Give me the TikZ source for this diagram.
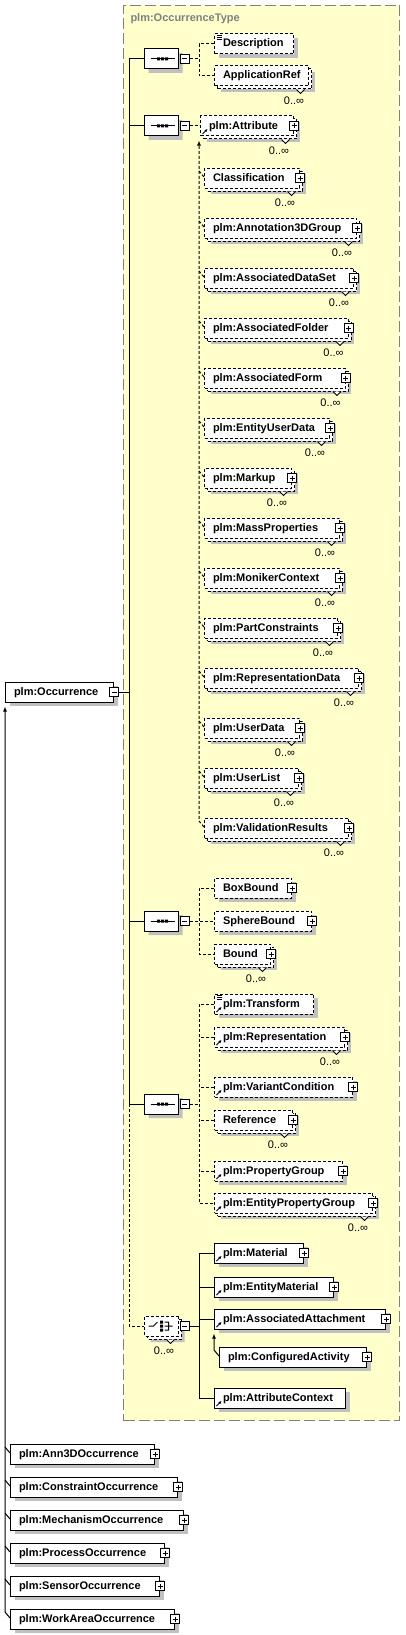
\documentclass[tikz,border=0pt]{standalone}
\usepackage{fontspec}
\setmainfont{Liberation Sans}
\usetikzlibrary{arrows.meta,positioning,calc,shapes.misc,shadows}

\definecolor{typebg}{RGB}{255,255,204}
\definecolor{typeline}{RGB}{128,128,128}
\definecolor{shade}{RGB}{192,192,192}

\tikzset{
  elem/.style={draw, fill=white, anchor=west, minimum height=20pt, inner xsep=8.5pt,
    inner ysep=0pt, text width=#1-17pt, align=left, text height=8pt, text depth=2pt,
    font=\bfseries\fontsize{11}{13}\selectfont},
  opt/.style={dash pattern=on 3pt off 2pt},
  dsh/.style={dash pattern=on 3pt off 2pt},
  one/.style={drop shadow={shadow xshift=4pt, shadow yshift=-4pt, fill=shade, opacity=1}},
  many/.style={drop shadow={shadow xshift=6pt, shadow yshift=-6pt, fill=shade, opacity=1},
    copy shadow={shadow xshift=3pt, shadow yshift=-3pt, draw, fill=white}},
  sq/.style={draw, solid, fill=white, minimum size=9pt, inner sep=0pt},
  expand/.style={append after command={node[sq, name=\tikzlastnode-p, path picture={
      \draw ([xshift=2pt]path picture bounding box.west) -- ([xshift=-2pt]path picture bounding box.east)
        ([yshift=-2pt]path picture bounding box.north) -- ([yshift=2pt]path picture bounding box.south);}]
      at (\tikzlastnode.east) {}}},
  collapse/.style={append after command={node[sq, name=\tikzlastnode-m, xshift=#1, path picture={
      \draw ([xshift=2pt]path picture bounding box.west) -- ([xshift=-2pt]path picture bounding box.east);}]
      at (\tikzlastnode.east) {}}},
  collapse/.default=0pt,
  refd/.style={path picture={\draw[solid, line width=.8pt, -{Latex[length=3pt,width=3pt]}]
      ([shift={(2,-2)}]path picture bounding box.south west) -- ++(5,-5);}},
  simple/.style={path picture={\draw[solid, line width=.7pt]
      ([shift={(2,1)}]path picture bounding box.north west) -- ++(5,0) ++(-5,2) -- ++(5,0) ++(-5,2) -- ++(5,0);}},
  simpleref/.style={path picture={\draw[solid, line width=.7pt]
      ([shift={(2,1)}]path picture bounding box.north west) -- ++(5,0) ++(-5,2) -- ++(5,0) ++(-5,2) -- ++(5,0);
      \draw[solid, line width=.8pt, -{Latex[length=3pt,width=3pt]}]
      ([shift={(2,-2)}]path picture bounding box.south west) -- ++(5,-5);}},
  comp/.style={chamfered rectangle, chamfered rectangle xsep=6pt, draw, fill=white, anchor=west,
    minimum width=34pt, minimum height=20pt, inner sep=0pt, collapse=5.5pt},
  seq/.style={comp, path picture={\begin{scope}[shift={(path picture bounding box.center)}]
      \draw[solid] (-11,0) -- (13,0);
      \fill[black] (-4.5,-1.5) rectangle ++(3,3) (-0.5,-1.5) rectangle ++(3,3) (3.5,-1.5) rectangle ++(3,3);
    \end{scope}}},
  choice/.style={comp, opt, path picture={\begin{scope}[shift={(path picture bounding box.center)}]
      \draw[solid] (-13,0) -- (-8,0) -- (-4,-4) (3,-4) -- (7,-4) -- (7,4) -- (3,4) (3,0) -- (11,0);
      \fill[black] (-1.5,-5.5) rectangle ++(3,3) (-1.5,-1.5) rectangle ++(3,3) (-1.5,2.5) rectangle ++(3,3);
    \end{scope}}},
  notch/.style={draw, solid, fill=white},
  occurs/.style={font=\fontsize{11}{13}\selectfont, inner sep=0pt, xshift=-10.5pt, yshift=-11pt},
  typebox/.style={draw=typeline, fill=typebg, dash pattern=on 11pt off 4pt, anchor=north west,
    minimum width=276pt, minimum height=1415pt, inner sep=0pt},
  typetitle/.style={anchor=west, inner sep=0pt, text=typeline, font=\bfseries\fontsize{11}{13}\selectfont}
}

\begin{document}
\begin{tikzpicture}[x=1pt, y=-1pt, line width=1pt, >={Latex[length=5pt,width=4pt]}]
\useasboundingbox (0,0) rectangle (405,1635);
\node[typebox] (otype) at (123,5) {};
\node[typetitle] (otype-t) at (130,19) {plm:OccurrenceType};
\coordinate (mx) at (129,0); \coordinate (jx) at (199,0);

\node[elem=108, one, collapse] (occ) at (5,692) {plm:Occurrence};

% first sequence
\node[seq, one] (s1) at (144,59) {};
\node[elem=79, opt, one, simple] (desc) at (214,44) {Description};
\node[elem=94, opt, many] (appref) at (214,76) {ApplicationRef};

% attribute and its substitution group
\node[seq, one] (s2) at (144,126) {};
\node[elem=93, opt, many, refd, expand] (attr) at (200,126) {plm:Attribute};
\node[elem=95, opt, many, expand] (cls) at (204,178) {Classification};
\node[elem=152, opt, many, expand] (a3d) at (204,228) {plm:Annotation3DGroup};
\node[elem=149, opt, many, expand] (ads) at (204,278) {plm:AssociatedDataSet};
\node[elem=143.5, opt, many, expand] (afo) at (204,328) {plm:AssociatedFolder};
\node[elem=140.5, opt, many, expand] (afm) at (204,378) {plm:AssociatedForm};
\node[elem=125, opt, many, expand] (eud) at (204,428) {plm:EntityUserData};
\node[elem=87, opt, many, expand] (mku) at (204,478) {plm:Markup};
\node[elem=135, opt, many, expand] (mpr) at (204,528) {plm:MassProperties};
\node[elem=135, opt, many, expand] (mnk) at (204,578) {plm:MonikerContext};
\node[elem=133, opt, many, expand] (pco) at (204,628) {plm:PartConstraints};
\node[elem=154, opt, many, expand] (rpd) at (204,678) {plm:RepresentationData};
\node[elem=95, opt, many, expand] (usd) at (204,728) {plm:UserData};
\node[elem=94, opt, many, expand] (usl) at (204,778) {plm:UserList};
\node[elem=144, opt, many, expand] (vlr) at (204,828) {plm:ValidationResults};

% bounds
\node[seq, one] (s3) at (144,921) {};
\node[elem=77, opt, one, expand] (bbx) at (214,888) {BoxBound};
\node[elem=97, opt, one, expand] (sbx) at (214,921) {SphereBound};
\node[elem=56, opt, many, expand] (bnd) at (214,954) {Bound};

\node[seq, one] (s4) at (144,1104) {};
\node[elem=99, opt, one, simpleref] (trf) at (214,1004) {plm:Transform};
\node[elem=130, opt, many, refd, expand] (rep) at (214,1037) {plm:Representation};
\node[elem=138, opt, one, refd, expand] (vcd) at (214,1087) {plm:VariantCondition};
\node[elem=78, opt, many, expand] (refr) at (214,1120) {Reference};
\node[elem=128, opt, one, refd, expand] (prg) at (214,1171) {plm:PropertyGroup};
\node[elem=158, opt, many, refd, expand] (epg) at (214,1203) {plm:EntityPropertyGroup};

% choice
\node[choice, many] (chc) at (144,1326) {};
\node[elem=89, one, refd, expand] (mat) at (214,1253) {plm:Material};
\node[elem=119, one, refd, expand] (emat) at (214,1287) {plm:EntityMaterial};
\node[elem=171, one, refd, expand] (att) at (214,1319) {plm:AssociatedAttachment};
\node[elem=147, one, expand] (cfg) at (219,1357) {plm:ConfiguredActivity};
\node[elem=131, one, refd] (actx) at (214,1398) {plm:AttributeContext};

% derived types
\node[elem=144, one, expand] (ann) at (10,1454) {plm:Ann3DOccurrence};
\node[elem=167, one, expand] (con) at (10,1487) {plm:ConstraintOccurrence};
\node[elem=173, one, expand] (mec) at (10,1520) {plm:MechanismOccurrence};
\node[elem=154, one, expand] (pro) at (10,1553) {plm:ProcessOccurrence};
\node[elem=149, one, expand] (sen) at (10,1586) {plm:SensorOccurrence};
\node[elem=164, one, expand] (wao) at (10,1619) {plm:WorkAreaOccurrence};

\draw (s1.west) -- (s1.west -| mx) -- (s4.west -| mx) -- (s4.west);
\draw (s2.west) -- (s2.west -| mx) (s3.west) -- (s3.west -| mx) (occ-m.east) -- (occ-m.east -| mx);
\draw[dsh] (s4.west -| mx) |- (chc.west);

\draw[dsh] (s1-m.east) -- (s1-m.east -| jx) (desc.west) -| (jx |- appref.west) -- (appref.west);
\draw[dsh] (s2-m.east) -- (attr.west);
\draw[dsh, ->] (vlr.west) ++(0,-1) -- ++(-5,-6) -- ($(attr.south -| jx)+(0,4)$);
\draw[dsh] (cls.west) ++(0,-1) -- ++(-5,-6) (a3d.west) ++(0,-1) -- ++(-5,-6)
  (ads.west) ++(0,-1) -- ++(-5,-6) (afo.west) ++(0,-1) -- ++(-5,-6)
  (afm.west) ++(0,-1) -- ++(-5,-6) (eud.west) ++(0,-1) -- ++(-5,-6)
  (mku.west) ++(0,-1) -- ++(-5,-6) (mpr.west) ++(0,-1) -- ++(-5,-6)
  (mnk.west) ++(0,-1) -- ++(-5,-6) (pco.west) ++(0,-1) -- ++(-5,-6)
  (rpd.west) ++(0,-1) -- ++(-5,-6) (usd.west) ++(0,-1) -- ++(-5,-6)
  (usl.west) ++(0,-1) -- ++(-5,-6);
\draw[dsh] (s3-m.east) -- (sbx.west) (bbx.west) -| (jx |- bnd.west) -- (bnd.west);
\draw[dsh] (s4-m.east) -- (s4-m.east -| jx) (trf.west) -| (jx |- epg.west) -- (epg.west)
  (rep.west) -- (rep.west -| jx) (vcd.west) -- (vcd.west -| jx)
  (refr.west) -- (refr.west -| jx) (prg.west) -- (prg.west -| jx);
\draw (chc-m.east) -- (chc-m.east -| jx) (mat.west) -| (jx |- actx.west) -- (actx.west)
  (emat.west) -- (emat.west -| jx) (att.west) -- (att.west -| jx);
\draw[->] (cfg.west) ++(0,-1) -- ++(-5,-6) -- ($(att.south west)+(0,4)$);

\draw[->] (wao.west) ++(0,-1) -- ++(-5,-6) -- ($(occ.south west)+(0,4)$);
\draw (ann.west) ++(0,-1) -- ++(-5,-6) (con.west) ++(0,-1) -- ++(-5,-6)
  (mec.west) ++(0,-1) -- ++(-5,-6) (pro.west) ++(0,-1) -- ++(-5,-6)
  (sen.west) ++(0,-1) -- ++(-5,-6);

% occurrence marks
\draw[notch] ([shift={(-12.5,3)}]appref.south east) -- ++(4,4) -- ++(4,-4) node[occurs] (appref-n) {0..∞};
\draw[notch] ([shift={(-12.5,3)}]attr.south east) -- ++(4,4) -- ++(4,-4) node[occurs] (attr-n) {0..∞};
\draw[notch] ([shift={(-12.5,3)}]cls.south east) -- ++(4,4) -- ++(4,-4) node[occurs] (cls-n) {0..∞};
\draw[notch] ([shift={(-12.5,3)}]a3d.south east) -- ++(4,4) -- ++(4,-4) node[occurs] (a3d-n) {0..∞};
\draw[notch] ([shift={(-12.5,3)}]ads.south east) -- ++(4,4) -- ++(4,-4) node[occurs] (ads-n) {0..∞};
\draw[notch] ([shift={(-12.5,3)}]afo.south east) -- ++(4,4) -- ++(4,-4) node[occurs] (afo-n) {0..∞};
\draw[notch] ([shift={(-12.5,3)}]afm.south east) -- ++(4,4) -- ++(4,-4) node[occurs] (afm-n) {0..∞};
\draw[notch] ([shift={(-12.5,3)}]eud.south east) -- ++(4,4) -- ++(4,-4) node[occurs] (eud-n) {0..∞};
\draw[notch] ([shift={(-12.5,3)}]mku.south east) -- ++(4,4) -- ++(4,-4) node[occurs] (mku-n) {0..∞};
\draw[notch] ([shift={(-12.5,3)}]mpr.south east) -- ++(4,4) -- ++(4,-4) node[occurs] (mpr-n) {0..∞};
\draw[notch] ([shift={(-12.5,3)}]mnk.south east) -- ++(4,4) -- ++(4,-4) node[occurs] (mnk-n) {0..∞};
\draw[notch] ([shift={(-12.5,3)}]pco.south east) -- ++(4,4) -- ++(4,-4) node[occurs] (pco-n) {0..∞};
\draw[notch] ([shift={(-12.5,3)}]rpd.south east) -- ++(4,4) -- ++(4,-4) node[occurs] (rpd-n) {0..∞};
\draw[notch] ([shift={(-12.5,3)}]usd.south east) -- ++(4,4) -- ++(4,-4) node[occurs] (usd-n) {0..∞};
\draw[notch] ([shift={(-12.5,3)}]usl.south east) -- ++(4,4) -- ++(4,-4) node[occurs] (usl-n) {0..∞};
\draw[notch] ([shift={(-12.5,3)}]vlr.south east) -- ++(4,4) -- ++(4,-4) node[occurs] (vlr-n) {0..∞};
\draw[notch] ([shift={(-12.5,3)}]bnd.south east) -- ++(4,4) -- ++(4,-4) node[occurs] (bnd-n) {0..∞};
\draw[notch] ([shift={(-12.5,3)}]rep.south east) -- ++(4,4) -- ++(4,-4) node[occurs] (rep-n) {0..∞};
\draw[notch] ([shift={(-12.5,3)}]refr.south east) -- ++(4,4) -- ++(4,-4) node[occurs] (refr-n) {0..∞};
\draw[notch] ([shift={(-12.5,3)}]epg.south east) -- ++(4,4) -- ++(4,-4) node[occurs] (epg-n) {0..∞};
\draw[notch] ($(chc.east |- chc.south)+(-12.5,3)$) -- ++(4,4) -- ++(4,-4) node[occurs] (chc-n) {0..∞};
\end{tikzpicture}
\end{document}
